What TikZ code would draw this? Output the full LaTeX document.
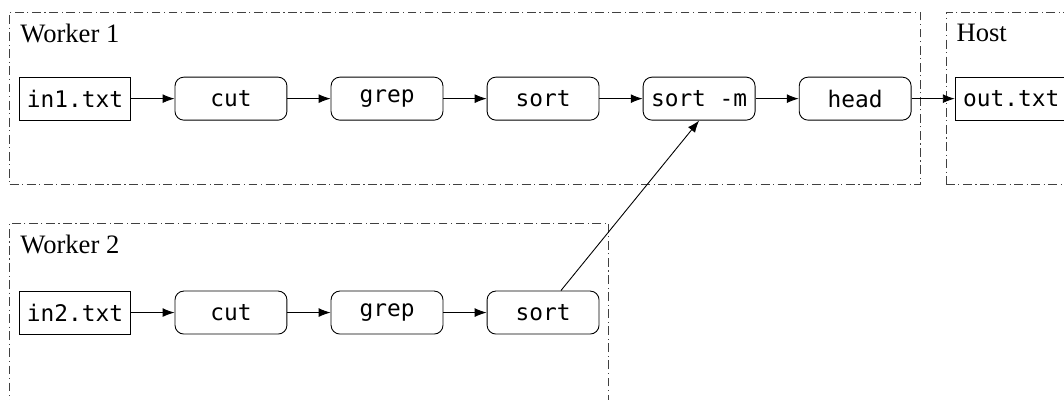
\documentclass[tikz,border=0pt]{standalone}
\usepackage{fontspec}
\setmainfont{Liberation Serif}
\setmonofont{DejaVu Sans Mono}
\usetikzlibrary{arrows.meta,matrix,fit,calc}

\begin{document}
\begin{tikzpicture}[->,>={Latex[length=5.4pt,width=4pt]}
	,thin
	,font=\ttfamily\fontsize{10.3}{12}\selectfont]
  \tikzstyle{file}=[draw,minimum width=50.5pt,minimum height=19.4pt
  ,inner xsep=3pt]
  \tikzstyle{cmd}=[file,rounded corners=4pt]
  \tikzstyle{machine}=[draw=black!75
  ,dash pattern=on 4pt off 1.6pt on 0.5pt off 1.6pt
  ,inner xsep=4pt,inner ysep=29pt]
  \tikzstyle{machine name}=[anchor=north west
  ,font=\rmfamily\fontsize{12}{14}\selectfont
  ,inner xsep=4.8pt,inner ysep=5.4pt]

  \matrix (m) [row sep=76.7pt,column sep=19.5pt] {
    % first pipeline
    \node[file](in1)  {in1.txt}; &
    \node[cmd](cut1)  {cut};     &
    \node[cmd](grep1) {grep};    &
    \node[cmd](sort1) {sort};    &
    \node[cmd](sortm) {sort -m}; &
    \node[cmd](head)  {head};    &
    \node[file](out)  {out.txt}; \\
    % second pipeline
    \node[file](in2)  {in2.txt}; &
    \node[cmd](cut2)  {cut};     &
    \node[cmd](grep2) {grep};    &
    \node[cmd](sort2) {sort};    &
    & & \\
  };

  % machines
  \node[machine,fit=(in1)(head)] (w1) {};
  \node[machine name] at (w1.north west) {Worker 1};
  \node[machine,fit=(out)] (host) {};
  \node[machine name] at (host.north west) {Host};
  \node[machine,fit=(in2)(sort2),inner ysep=30.5pt] (w2) {};
  \node[machine name] at (w2.north west) {Worker 2};

  % worker 1
  \path (in1)   edge (cut1);
  \path (cut1)  edge (grep1);
  \path (grep1) edge (sort1);
  \path (sort1) edge (sortm);
  \path (sortm) edge (head);
  \path (head)  edge (out);
  % worker 2
  \path (in2)   edge (cut2);
  \path (cut2)  edge (grep2);
  \path (grep2) edge (sort2);
  % merge
  \path (sort2) edge (sortm.south);

  \pgfresetboundingbox
  \useasboundingbox ($(in1.center)+(-33.8pt,44.5pt)$)
  rectangle ($(in1.center)+(446.2pt,-135.5pt)$);
\end{tikzpicture}
\end{document}
